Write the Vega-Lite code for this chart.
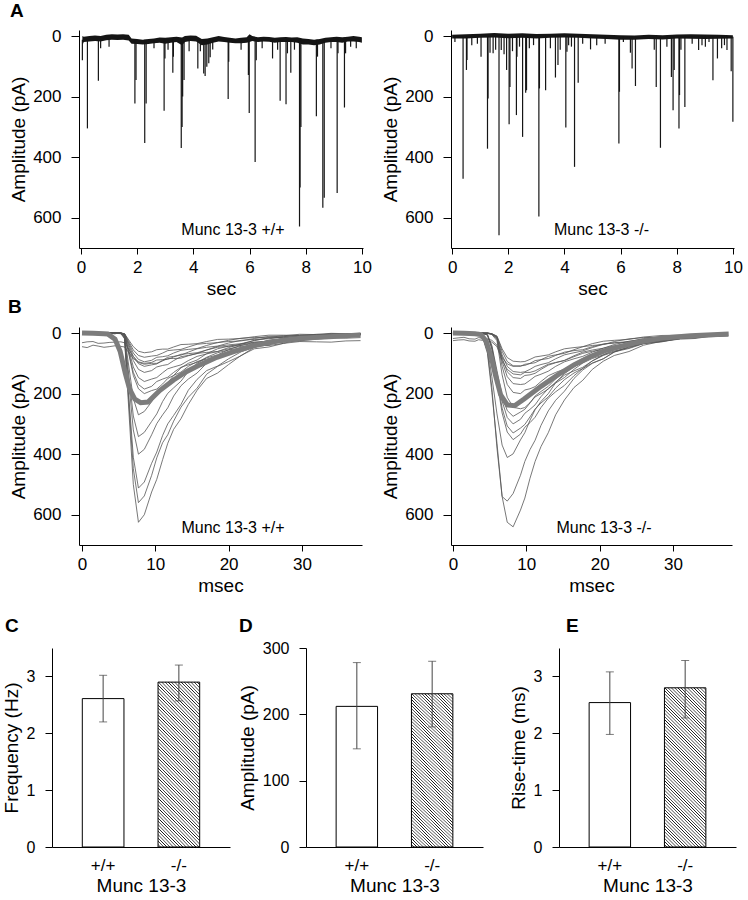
{
"$schema":"https://vega.github.io/schema/vega-lite/v6.json",
"background":"white",
"padding":{"left":2,"top":2,"right":0,"bottom":0},
"spacing":22,
"config":{
 "font":"Liberation Sans",
 "view":{"stroke":null},
 "axis":{"grid":false,"domainColor":"black","tickColor":"black","labelColor":"black","titleColor":"black","labelFont":"Liberation Sans","titleFont":"Liberation Sans","labelFontSize":17,"titleFontSize":19,"titleFontWeight":"normal","domainWidth":1,"tickWidth":1,"labelOverlap":false},
 "title":{"fontSize":19,"fontWeight":"bold","font":"Liberation Sans","anchor":"start","frame":"group","color":"black"},
 "bar":{"fill":{"gradient":"linear","x1":0,"y1":1,"x2":0.307,"y2":-0.18,"stops":[
{"offset":0,"color":"#fff"},{"offset":0.008,"color":"#fff"},{"offset":0.012,"color":"#111"},
{"offset":0.016,"color":"#fff"},{"offset":0.024,"color":"#fff"},{"offset":0.028,"color":"#111"},
{"offset":0.032,"color":"#fff"},{"offset":0.04,"color":"#fff"},{"offset":0.044,"color":"#111"},
{"offset":0.048,"color":"#fff"},{"offset":0.056,"color":"#fff"},{"offset":0.06,"color":"#111"},
{"offset":0.064,"color":"#fff"},{"offset":0.072,"color":"#fff"},{"offset":0.076,"color":"#111"},
{"offset":0.08,"color":"#fff"},{"offset":0.088,"color":"#fff"},{"offset":0.092,"color":"#111"},
{"offset":0.096,"color":"#fff"},{"offset":0.104,"color":"#fff"},{"offset":0.108,"color":"#111"},
{"offset":0.112,"color":"#fff"},{"offset":0.12,"color":"#fff"},{"offset":0.124,"color":"#111"},
{"offset":0.128,"color":"#fff"},{"offset":0.136,"color":"#fff"},{"offset":0.14,"color":"#111"},
{"offset":0.144,"color":"#fff"},{"offset":0.152,"color":"#fff"},{"offset":0.156,"color":"#111"},
{"offset":0.16,"color":"#fff"},{"offset":0.168,"color":"#fff"},{"offset":0.172,"color":"#111"},
{"offset":0.176,"color":"#fff"},{"offset":0.184,"color":"#fff"},{"offset":0.188,"color":"#111"},
{"offset":0.192,"color":"#fff"},{"offset":0.2,"color":"#fff"},{"offset":0.204,"color":"#111"},
{"offset":0.208,"color":"#fff"},{"offset":0.216,"color":"#fff"},{"offset":0.22,"color":"#111"},
{"offset":0.224,"color":"#fff"},{"offset":0.232,"color":"#fff"},{"offset":0.236,"color":"#111"},
{"offset":0.24,"color":"#fff"},{"offset":0.248,"color":"#fff"},{"offset":0.252,"color":"#111"},
{"offset":0.256,"color":"#fff"},{"offset":0.264,"color":"#fff"},{"offset":0.268,"color":"#111"},
{"offset":0.272,"color":"#fff"},{"offset":0.28,"color":"#fff"},{"offset":0.284,"color":"#111"},
{"offset":0.288,"color":"#fff"},{"offset":0.296,"color":"#fff"},{"offset":0.3,"color":"#111"},
{"offset":0.304,"color":"#fff"},{"offset":0.312,"color":"#fff"},{"offset":0.316,"color":"#111"},
{"offset":0.32,"color":"#fff"},{"offset":0.328,"color":"#fff"},{"offset":0.332,"color":"#111"},
{"offset":0.336,"color":"#fff"},{"offset":0.344,"color":"#fff"},{"offset":0.348,"color":"#111"},
{"offset":0.352,"color":"#fff"},{"offset":0.36,"color":"#fff"},{"offset":0.364,"color":"#111"},
{"offset":0.368,"color":"#fff"},{"offset":0.376,"color":"#fff"},{"offset":0.38,"color":"#111"},
{"offset":0.384,"color":"#fff"},{"offset":0.392,"color":"#fff"},{"offset":0.396,"color":"#111"},
{"offset":0.4,"color":"#fff"},{"offset":0.408,"color":"#fff"},{"offset":0.412,"color":"#111"},
{"offset":0.416,"color":"#fff"},{"offset":0.424,"color":"#fff"},{"offset":0.428,"color":"#111"},
{"offset":0.432,"color":"#fff"},{"offset":0.44,"color":"#fff"},{"offset":0.444,"color":"#111"},
{"offset":0.448,"color":"#fff"},{"offset":0.456,"color":"#fff"},{"offset":0.46,"color":"#111"},
{"offset":0.464,"color":"#fff"},{"offset":0.472,"color":"#fff"},{"offset":0.476,"color":"#111"},
{"offset":0.48,"color":"#fff"},{"offset":0.488,"color":"#fff"},{"offset":0.492,"color":"#111"},
{"offset":0.496,"color":"#fff"},{"offset":0.504,"color":"#fff"},{"offset":0.508,"color":"#111"},
{"offset":0.512,"color":"#fff"},{"offset":0.52,"color":"#fff"},{"offset":0.524,"color":"#111"},
{"offset":0.528,"color":"#fff"},{"offset":0.536,"color":"#fff"},{"offset":0.54,"color":"#111"},
{"offset":0.544,"color":"#fff"},{"offset":0.552,"color":"#fff"},{"offset":0.556,"color":"#111"},
{"offset":0.56,"color":"#fff"},{"offset":0.568,"color":"#fff"},{"offset":0.572,"color":"#111"},
{"offset":0.576,"color":"#fff"},{"offset":0.584,"color":"#fff"},{"offset":0.588,"color":"#111"},
{"offset":0.592,"color":"#fff"},{"offset":0.6,"color":"#fff"},{"offset":0.604,"color":"#111"},
{"offset":0.608,"color":"#fff"},{"offset":0.616,"color":"#fff"},{"offset":0.62,"color":"#111"},
{"offset":0.624,"color":"#fff"},{"offset":0.632,"color":"#fff"},{"offset":0.636,"color":"#111"},
{"offset":0.64,"color":"#fff"},{"offset":0.648,"color":"#fff"},{"offset":0.652,"color":"#111"},
{"offset":0.656,"color":"#fff"},{"offset":0.664,"color":"#fff"},{"offset":0.668,"color":"#111"},
{"offset":0.672,"color":"#fff"},{"offset":0.68,"color":"#fff"},{"offset":0.684,"color":"#111"},
{"offset":0.688,"color":"#fff"},{"offset":0.696,"color":"#fff"},{"offset":0.7,"color":"#111"},
{"offset":0.704,"color":"#fff"},{"offset":0.712,"color":"#fff"},{"offset":0.716,"color":"#111"},
{"offset":0.72,"color":"#fff"},{"offset":0.728,"color":"#fff"},{"offset":0.732,"color":"#111"},
{"offset":0.736,"color":"#fff"},{"offset":0.744,"color":"#fff"},{"offset":0.748,"color":"#111"},
{"offset":0.752,"color":"#fff"},{"offset":0.76,"color":"#fff"},{"offset":0.764,"color":"#111"},
{"offset":0.768,"color":"#fff"},{"offset":0.776,"color":"#fff"},{"offset":0.78,"color":"#111"},
{"offset":0.784,"color":"#fff"},{"offset":0.792,"color":"#fff"},{"offset":0.796,"color":"#111"},
{"offset":0.8,"color":"#fff"},{"offset":0.808,"color":"#fff"},{"offset":0.812,"color":"#111"},
{"offset":0.816,"color":"#fff"},{"offset":0.824,"color":"#fff"},{"offset":0.828,"color":"#111"},
{"offset":0.832,"color":"#fff"},{"offset":0.84,"color":"#fff"},{"offset":0.844,"color":"#111"},
{"offset":0.848,"color":"#fff"},{"offset":0.856,"color":"#fff"},{"offset":0.86,"color":"#111"},
{"offset":0.864,"color":"#fff"},{"offset":0.872,"color":"#fff"},{"offset":0.876,"color":"#111"},
{"offset":0.88,"color":"#fff"},{"offset":0.888,"color":"#fff"},{"offset":0.892,"color":"#111"},
{"offset":0.896,"color":"#fff"},{"offset":0.904,"color":"#fff"},{"offset":0.908,"color":"#111"},
{"offset":0.912,"color":"#fff"},{"offset":0.92,"color":"#fff"},{"offset":0.924,"color":"#111"},
{"offset":0.928,"color":"#fff"},{"offset":0.936,"color":"#fff"},{"offset":0.94,"color":"#111"},
{"offset":0.944,"color":"#fff"},{"offset":0.952,"color":"#fff"},{"offset":0.956,"color":"#111"},
{"offset":0.96,"color":"#fff"},{"offset":0.968,"color":"#fff"},{"offset":0.972,"color":"#111"},
{"offset":0.976,"color":"#fff"},{"offset":0.984,"color":"#fff"},{"offset":0.988,"color":"#111"},
{"offset":0.992,"color":"#fff"},{"offset":1,"color":"#fff"}
 ]}}
},
"datasets":{
"aLbase":[
{"t":0.05,"lo":0,"hi":30},{"t":0.1,"lo":2,"hi":20},{"t":0.3,"lo":0,"hi":18},{"t":0.5,"lo":-2,"hi":16},{"t":0.7,"lo":0,"hi":18},{"t":0.9,"lo":-4,"hi":14},{"t":1.1,"lo":-6,"hi":12},{"t":1.3,"lo":-5,"hi":13},{"t":1.5,"lo":-6,"hi":12},{"t":1.7,"lo":-4,"hi":15},{"t":1.8,"lo":8,"hi":25},{"t":2.0,"lo":10,"hi":26},{"t":2.2,"lo":12,"hi":28},{"t":2.4,"lo":10,"hi":26},{"t":2.6,"lo":8,"hi":24},{"t":2.8,"lo":5,"hi":22},{"t":3.0,"lo":6,"hi":25},{"t":3.2,"lo":4,"hi":22},{"t":3.4,"lo":2,"hi":20},{"t":3.6,"lo":5,"hi":30},{"t":3.7,"lo":0,"hi":20},{"t":3.9,"lo":-2,"hi":16},{"t":4.1,"lo":-1,"hi":18},{"t":4.3,"lo":10,"hi":30},{"t":4.5,"lo":8,"hi":28},{"t":4.7,"lo":4,"hi":22},{"t":4.9,"lo":0,"hi":18},{"t":5.1,"lo":3,"hi":20},{"t":5.3,"lo":6,"hi":22},{"t":5.5,"lo":8,"hi":24},{"t":5.7,"lo":6,"hi":24},{"t":5.9,"lo":4,"hi":22},{"t":6.0,"lo":-6,"hi":20},{"t":6.1,"lo":0,"hi":16},{"t":6.3,"lo":4,"hi":20},{"t":6.5,"lo":2,"hi":18},{"t":6.7,"lo":3,"hi":19},{"t":6.9,"lo":6,"hi":22},{"t":7.1,"lo":4,"hi":20},{"t":7.3,"lo":3,"hi":20},{"t":7.5,"lo":5,"hi":20},{"t":7.7,"lo":4,"hi":22},{"t":7.9,"lo":8,"hi":28},{"t":8.1,"lo":10,"hi":28},{"t":8.3,"lo":12,"hi":30},{"t":8.5,"lo":10,"hi":28},{"t":8.7,"lo":6,"hi":22},{"t":8.9,"lo":4,"hi":20},{"t":9.1,"lo":2,"hi":20},{"t":9.3,"lo":4,"hi":22},{"t":9.5,"lo":2,"hi":18},{"t":9.7,"lo":0,"hi":18},{"t":9.9,"lo":2,"hi":20},{"t":10.0,"lo":4,"hi":22}
],
"aLspk":[
{"t":0.05,"a":80},{"t":0.23,"a":305},{"t":0.62,"a":148},{"t":0.7,"a":40},{"t":1.0,"a":35},{"t":1.92,"a":223},{"t":1.96,"a":145},{"t":2.27,"a":353},{"t":2.32,"a":223},{"t":2.6,"a":40},{"t":2.96,"a":247},{"t":2.99,"a":74},{"t":3.1,"a":45},{"t":3.27,"a":121},{"t":3.29,"a":68},{"t":3.57,"a":370},{"t":3.6,"a":300},{"t":3.62,"a":200},{"t":3.67,"a":145},{"t":3.85,"a":50},{"t":4.16,"a":107},{"t":4.25,"a":50},{"t":4.37,"a":124},{"t":4.42,"a":132},{"t":4.48,"a":101},{"t":4.55,"a":90},{"t":4.6,"a":70},{"t":4.69,"a":44},{"t":5.24,"a":208},{"t":5.26,"a":85},{"t":5.7,"a":45},{"t":5.96,"a":129},{"t":5.99,"a":254},{"t":6.2,"a":416},{"t":6.24,"a":80},{"t":6.45,"a":40},{"t":6.82,"a":74},{"t":7.0,"a":45},{"t":7.09,"a":214},{"t":7.3,"a":225},{"t":7.35,"a":57},{"t":7.47,"a":121},{"t":7.6,"a":45},{"t":7.78,"a":629},{"t":7.8,"a":500},{"t":7.83,"a":300},{"t":8.38,"a":265},{"t":8.42,"a":68},{"t":8.61,"a":567},{"t":8.66,"a":534},{"t":8.9,"a":40},{"t":9.12,"a":518},{"t":9.15,"a":57},{"t":9.38,"a":236},{"t":9.42,"a":57},{"t":9.6,"a":35},{"t":9.8,"a":40}
],
"aRbase":[
{"t":0,"lo":-4,"hi":8},{"t":0.5,"lo":-6,"hi":8},{"t":1,"lo":-8,"hi":6},{"t":1.5,"lo":-10,"hi":5},{"t":2,"lo":-8,"hi":7},{"t":2.5,"lo":-9,"hi":6},{"t":3,"lo":-7,"hi":8},{"t":3.5,"lo":-8,"hi":6},{"t":4,"lo":-9,"hi":5},{"t":4.5,"lo":-8,"hi":6},{"t":5,"lo":-6,"hi":8},{"t":5.5,"lo":-4,"hi":10},{"t":6,"lo":-3,"hi":12},{"t":6.5,"lo":-2,"hi":12},{"t":7,"lo":-4,"hi":10},{"t":7.5,"lo":-3,"hi":11},{"t":8,"lo":-5,"hi":8},{"t":8.5,"lo":-6,"hi":9},{"t":9,"lo":-5,"hi":10},{"t":9.5,"lo":-4,"hi":9},{"t":10,"lo":-3,"hi":8}
],
"aRspk":[
{"t":0.1,"a":20},{"t":0.39,"a":471},{"t":0.51,"a":112},{"t":0.53,"a":79},{"t":0.7,"a":30},{"t":0.9,"a":25},{"t":1.03,"a":68},{"t":1.26,"a":372},{"t":1.28,"a":206},{"t":1.35,"a":55},{"t":1.46,"a":57},{"t":1.55,"a":45},{"t":1.67,"a":658},{"t":1.75,"a":46},{"t":1.85,"a":60},{"t":1.94,"a":112},{"t":2.03,"a":291},{"t":2.06,"a":168},{"t":2.15,"a":50},{"t":2.29,"a":261},{"t":2.31,"a":68},{"t":2.4,"a":35},{"t":2.51,"a":333},{"t":2.62,"a":187},{"t":2.65,"a":179},{"t":2.75,"a":40},{"t":2.9,"a":30},{"t":3.09,"a":596},{"t":3.11,"a":173},{"t":3.33,"a":179},{"t":3.5,"a":40},{"t":3.68,"a":137},{"t":3.77,"a":96},{"t":3.85,"a":45},{"t":4.05,"a":302},{"t":4.09,"a":52},{"t":4.15,"a":30},{"t":4.25,"a":35},{"t":4.36,"a":432},{"t":4.49,"a":154},{"t":4.65,"a":25},{"t":4.93,"a":44},{"t":5.15,"a":30},{"t":5.45,"a":25},{"t":5.94,"a":355},{"t":5.96,"a":184},{"t":6.1,"a":20},{"t":6.35,"a":55},{"t":6.41,"a":107},{"t":6.53,"a":165},{"t":7.2,"a":45},{"t":7.27,"a":168},{"t":7.42,"a":369},{"t":7.65,"a":35},{"t":7.81,"a":135},{"t":7.87,"a":245},{"t":7.91,"a":112},{"t":8.08,"a":305},{"t":8.1,"a":195},{"t":8.15,"a":45},{"t":8.29,"a":234},{"t":8.55,"a":25},{"t":8.78,"a":46},{"t":8.9,"a":30},{"t":9.02,"a":35},{"t":9.15,"a":20},{"t":9.29,"a":146},{"t":9.45,"a":74},{"t":9.6,"a":40},{"t":9.7,"a":30},{"t":9.79,"a":46},{"t":9.94,"a":116},{"t":10.0,"a":283}
],
"bL":[
{"k":1,"t":0,"a":2},{"k":1,"t":1.5,"a":-2},{"k":1,"t":3,"a":1},{"k":1,"t":4.5,"a":-1},{"k":1,"t":5.3,"a":2},{"k":1,"t":5.8,"a":19},{"k":1,"t":6.3,"a":219},{"k":1,"t":7,"a":500},{"k":1,"t":7.7,"a":625},{"k":1,"t":8.5,"a":600},{"k":1,"t":9.5,"a":525},{"k":1,"t":11,"a":418},{"k":1,"t":12.5,"a":318},{"k":1,"t":14.5,"a":236},{"k":1,"t":17,"a":150},{"k":1,"t":20,"a":104},{"k":1,"t":23.5,"a":52},{"k":1,"t":27.5,"a":34},{"k":1,"t":32,"a":12},{"k":1,"t":36,"a":11},{"k":1,"t":38,"a":4},
{"k":2,"t":0,"a":-1},{"k":2,"t":1.5,"a":3},{"k":2,"t":3,"a":0},{"k":2,"t":4.5,"a":2},{"k":2,"t":5.3,"a":-2},{"k":2,"t":5.8,"a":17},{"k":2,"t":6.3,"a":196},{"k":2,"t":7,"a":448},{"k":2,"t":7.7,"a":560},{"k":2,"t":8.5,"a":538},{"k":2,"t":9.5,"a":470},{"k":2,"t":11,"a":362},{"k":2,"t":12.5,"a":291},{"k":2,"t":14.5,"a":212},{"k":2,"t":17,"a":136},{"k":2,"t":20,"a":94},{"k":2,"t":23.5,"a":47},{"k":2,"t":27.5,"a":30},{"k":2,"t":32,"a":14},{"k":2,"t":36,"a":8},{"k":2,"t":38,"a":6},
{"k":3,"t":0,"a":1},{"k":3,"t":1.5,"a":-2},{"k":3,"t":3,"a":2},{"k":3,"t":4.5,"a":0},{"k":3,"t":5.3,"a":1},{"k":3,"t":5.8,"a":15},{"k":3,"t":6.3,"a":179},{"k":3,"t":7,"a":410},{"k":3,"t":7.7,"a":512},{"k":3,"t":8.5,"a":492},{"k":3,"t":9.5,"a":430},{"k":3,"t":11,"a":338},{"k":3,"t":12.5,"a":272},{"k":3,"t":14.5,"a":189},{"k":3,"t":17,"a":124},{"k":3,"t":20,"a":85},{"k":3,"t":23.5,"a":46},{"k":3,"t":27.5,"a":26},{"k":3,"t":32,"a":13},{"k":3,"t":36,"a":8},{"k":3,"t":38,"a":3},
{"k":4,"t":0,"a":3},{"k":4,"t":1.5,"a":0},{"k":4,"t":3,"a":-1},{"k":4,"t":4.5,"a":2},{"k":4,"t":5.3,"a":0},{"k":4,"t":5.8,"a":12},{"k":4,"t":6.3,"a":140},{"k":4,"t":7,"a":320},{"k":4,"t":7.7,"a":400},{"k":4,"t":8.5,"a":384},{"k":4,"t":9.5,"a":336},{"k":4,"t":11,"a":270},{"k":4,"t":12.5,"a":208},{"k":4,"t":14.5,"a":152},{"k":4,"t":17,"a":100},{"k":4,"t":20,"a":61},{"k":4,"t":23.5,"a":36},{"k":4,"t":27.5,"a":20},{"k":4,"t":32,"a":10},{"k":4,"t":36,"a":6},{"k":4,"t":38,"a":5},
{"k":5,"t":0,"a":-2},{"k":5,"t":1.5,"a":2},{"k":5,"t":3,"a":0},{"k":5,"t":4.5,"a":-1},{"k":5,"t":5.3,"a":2},{"k":5,"t":5.8,"a":10},{"k":5,"t":6.3,"a":120},{"k":5,"t":7,"a":274},{"k":5,"t":7.7,"a":342},{"k":5,"t":8.5,"a":328},{"k":5,"t":9.5,"a":292},{"k":5,"t":11,"a":226},{"k":5,"t":12.5,"a":181},{"k":5,"t":14.5,"a":127},{"k":5,"t":17,"a":82},{"k":5,"t":20,"a":55},{"k":5,"t":23.5,"a":31},{"k":5,"t":27.5,"a":17},{"k":5,"t":32,"a":9},{"k":5,"t":36,"a":5},{"k":5,"t":38,"a":3},
{"k":6,"t":0,"a":1},{"k":6,"t":1.5,"a":-1},{"k":6,"t":3,"a":2},{"k":6,"t":4.5,"a":0},{"k":6,"t":5.3,"a":-1},{"k":6,"t":5.8,"a":8},{"k":6,"t":6.3,"a":95},{"k":6,"t":7,"a":216},{"k":6,"t":7.7,"a":270},{"k":6,"t":8.5,"a":259},{"k":6,"t":9.5,"a":227},{"k":6,"t":11,"a":178},{"k":6,"t":12.5,"a":140},{"k":6,"t":14.5,"a":100},{"k":6,"t":17,"a":68},{"k":6,"t":20,"a":43},{"k":6,"t":23.5,"a":24},{"k":6,"t":27.5,"a":14},{"k":6,"t":32,"a":7},{"k":6,"t":36,"a":4},{"k":6,"t":38,"a":2},
{"k":7,"t":0,"a":0},{"k":7,"t":1.5,"a":2},{"k":7,"t":3,"a":-1},{"k":7,"t":4.5,"a":1},{"k":7,"t":5.3,"a":0},{"k":7,"t":5.8,"a":6},{"k":7,"t":6.3,"a":60},{"k":7,"t":7,"a":140},{"k":7,"t":7.7,"a":184},{"k":7,"t":8.5,"a":200},{"k":7,"t":9.5,"a":190},{"k":7,"t":11,"a":168},{"k":7,"t":12.5,"a":140},{"k":7,"t":14.5,"a":110},{"k":7,"t":17,"a":86},{"k":7,"t":20,"a":63},{"k":7,"t":23.5,"a":38},{"k":7,"t":27.5,"a":22},{"k":7,"t":32,"a":12},{"k":7,"t":36,"a":8},{"k":7,"t":38,"a":6},
{"k":8,"t":0,"a":-2},{"k":8,"t":1.5,"a":1},{"k":8,"t":3,"a":2},{"k":8,"t":4.5,"a":0},{"k":8,"t":5.3,"a":1},{"k":8,"t":5.8,"a":6},{"k":8,"t":6.3,"a":56},{"k":8,"t":7,"a":130},{"k":8,"t":7.7,"a":170},{"k":8,"t":8.5,"a":185},{"k":8,"t":9.5,"a":176},{"k":8,"t":11,"a":152},{"k":8,"t":12.5,"a":130},{"k":8,"t":14.5,"a":105},{"k":8,"t":17,"a":80},{"k":8,"t":20,"a":56},{"k":8,"t":23.5,"a":35},{"k":8,"t":27.5,"a":20},{"k":8,"t":32,"a":11},{"k":8,"t":36,"a":7},{"k":8,"t":38,"a":6},
{"k":9,"t":0,"a":1},{"k":9,"t":1.5,"a":-1},{"k":9,"t":3,"a":0},{"k":9,"t":4.5,"a":2},{"k":9,"t":5.3,"a":-1},{"k":9,"t":5.8,"a":5},{"k":9,"t":6.3,"a":48},{"k":9,"t":7,"a":112},{"k":9,"t":7.7,"a":147},{"k":9,"t":8.5,"a":160},{"k":9,"t":9.5,"a":152},{"k":9,"t":11,"a":131},{"k":9,"t":12.5,"a":112},{"k":9,"t":14.5,"a":91},{"k":9,"t":17,"a":69},{"k":9,"t":20,"a":48},{"k":9,"t":23.5,"a":30},{"k":9,"t":27.5,"a":18},{"k":9,"t":32,"a":10},{"k":9,"t":36,"a":6},{"k":9,"t":38,"a":5},
{"k":10,"t":0,"a":2},{"k":10,"t":1.5,"a":0},{"k":10,"t":3,"a":1},{"k":10,"t":4.5,"a":-2},{"k":10,"t":5.3,"a":0},{"k":10,"t":5.8,"a":4},{"k":10,"t":6.3,"a":39},{"k":10,"t":7,"a":91},{"k":10,"t":7.7,"a":120},{"k":10,"t":8.5,"a":130},{"k":10,"t":9.5,"a":124},{"k":10,"t":11,"a":107},{"k":10,"t":12.5,"a":91},{"k":10,"t":14.5,"a":74},{"k":10,"t":17,"a":56},{"k":10,"t":20,"a":39},{"k":10,"t":23.5,"a":25},{"k":10,"t":27.5,"a":14},{"k":10,"t":32,"a":8},{"k":10,"t":36,"a":5},{"k":10,"t":38,"a":4},
{"k":11,"t":0,"a":-1},{"k":11,"t":1.5,"a":2},{"k":11,"t":3,"a":0},{"k":11,"t":4.5,"a":1},{"k":11,"t":5.3,"a":2},{"k":11,"t":5.8,"a":3},{"k":11,"t":6.3,"a":33},{"k":11,"t":7,"a":77},{"k":11,"t":7.7,"a":101},{"k":11,"t":8.5,"a":110},{"k":11,"t":9.5,"a":105},{"k":11,"t":11,"a":90},{"k":11,"t":12.5,"a":77},{"k":11,"t":14.5,"a":63},{"k":11,"t":17,"a":47},{"k":11,"t":20,"a":33},{"k":11,"t":23.5,"a":21},{"k":11,"t":27.5,"a":12},{"k":11,"t":32,"a":7},{"k":11,"t":36,"a":4},{"k":11,"t":38,"a":2},
{"k":12,"t":0,"a":1},{"k":12,"t":1.5,"a":0},{"k":12,"t":3,"a":-2},{"k":12,"t":4.5,"a":0},{"k":12,"t":5.3,"a":1},{"k":12,"t":5.8,"a":3},{"k":12,"t":6.3,"a":28},{"k":12,"t":7,"a":66},{"k":12,"t":7.7,"a":87},{"k":12,"t":8.5,"a":95},{"k":12,"t":9.5,"a":90},{"k":12,"t":11,"a":78},{"k":12,"t":12.5,"a":66},{"k":12,"t":14.5,"a":54},{"k":12,"t":17,"a":41},{"k":12,"t":20,"a":28},{"k":12,"t":23.5,"a":18},{"k":12,"t":27.5,"a":10},{"k":12,"t":32,"a":6},{"k":12,"t":36,"a":4},{"k":12,"t":38,"a":3},
{"k":13,"t":0,"a":0},{"k":13,"t":1.5,"a":-2},{"k":13,"t":3,"a":1},{"k":13,"t":4.5,"a":1},{"k":13,"t":5.3,"a":0},{"k":13,"t":5.8,"a":2},{"k":13,"t":6.3,"a":24},{"k":13,"t":7,"a":56},{"k":13,"t":7.7,"a":74},{"k":13,"t":8.5,"a":80},{"k":13,"t":9.5,"a":76},{"k":13,"t":11,"a":66},{"k":13,"t":12.5,"a":56},{"k":13,"t":14.5,"a":46},{"k":13,"t":17,"a":34},{"k":13,"t":20,"a":24},{"k":13,"t":23.5,"a":15},{"k":13,"t":27.5,"a":9},{"k":13,"t":32,"a":5},{"k":13,"t":36,"a":3},{"k":13,"t":38,"a":1},
{"k":14,"t":0,"a":2},{"k":14,"t":1.5,"a":1},{"k":14,"t":3,"a":0},{"k":14,"t":4.5,"a":-1},{"k":14,"t":5.3,"a":0},{"k":14,"t":5.8,"a":2},{"k":14,"t":6.3,"a":20},{"k":14,"t":7,"a":45},{"k":14,"t":7.7,"a":60},{"k":14,"t":8.5,"a":65},{"k":14,"t":9.5,"a":62},{"k":14,"t":11,"a":53},{"k":14,"t":12.5,"a":46},{"k":14,"t":14.5,"a":37},{"k":14,"t":17,"a":28},{"k":14,"t":20,"a":20},{"k":14,"t":23.5,"a":12},{"k":14,"t":27.5,"a":7},{"k":14,"t":32,"a":4},{"k":14,"t":36,"a":2},{"k":14,"t":38,"a":1},
{"k":15,"t":0,"a":45},{"k":15,"t":1.5,"a":40},{"k":15,"t":3,"a":47},{"k":15,"t":4.5,"a":42},{"k":15,"t":5.3,"a":44},{"k":15,"t":5.8,"a":46},{"k":15,"t":6.3,"a":62},{"k":15,"t":7,"a":84},{"k":15,"t":7.7,"a":97},{"k":15,"t":8.5,"a":103},{"k":15,"t":9.5,"a":100},{"k":15,"t":11,"a":92},{"k":15,"t":12.5,"a":84},{"k":15,"t":14.5,"a":75},{"k":15,"t":17,"a":64},{"k":15,"t":20,"a":52},{"k":15,"t":23.5,"a":42},{"k":15,"t":27.5,"a":34},{"k":15,"t":32,"a":29},{"k":15,"t":36,"a":26},{"k":15,"t":38,"a":25},
{"k":16,"t":0,"a":32},{"k":16,"t":1.5,"a":28},{"k":16,"t":3,"a":33},{"k":16,"t":4.5,"a":30},{"k":16,"t":5.3,"a":29},{"k":16,"t":5.8,"a":32},{"k":16,"t":6.3,"a":50},{"k":16,"t":7,"a":78},{"k":16,"t":7.7,"a":95},{"k":16,"t":8.5,"a":100},{"k":16,"t":9.5,"a":97},{"k":16,"t":11,"a":88},{"k":16,"t":12.5,"a":79},{"k":16,"t":14.5,"a":68},{"k":16,"t":17,"a":56},{"k":16,"t":20,"a":44},{"k":16,"t":23.5,"a":34},{"k":16,"t":27.5,"a":26},{"k":16,"t":32,"a":20},{"k":16,"t":36,"a":17},{"k":16,"t":38,"a":15},
{"k":1,"t":0.7,"a":3},{"k":1,"t":2.2,"a":-1},{"k":1,"t":3.7,"a":2},{"k":1,"t":10.2,"a":483},{"k":1,"t":11.7,"a":364},{"k":1,"t":13.5,"a":283},{"k":1,"t":15.7,"a":189},{"k":1,"t":18.5,"a":132},{"k":1,"t":21.7,"a":74},{"k":1,"t":25.5,"a":46},{"k":1,"t":29.7,"a":20},{"k":1,"t":34,"a":14},
{"k":2,"t":0.7,"a":-2},{"k":2,"t":2.2,"a":1},{"k":2,"t":3.7,"a":-1},{"k":2,"t":10.2,"a":412},{"k":2,"t":11.7,"a":336},{"k":2,"t":13.5,"a":245},{"k":2,"t":15.7,"a":182},{"k":2,"t":18.5,"a":110},{"k":2,"t":21.7,"a":75},{"k":2,"t":25.5,"a":35},{"k":2,"t":29.7,"a":25},{"k":2,"t":34,"a":8},
{"k":3,"t":0.7,"a":2},{"k":3,"t":2.2,"a":0},{"k":3,"t":3.7,"a":-2},{"k":3,"t":10.2,"a":393},{"k":3,"t":11.7,"a":300},{"k":3,"t":13.5,"a":236},{"k":3,"t":15.7,"a":153},{"k":3,"t":18.5,"a":109},{"k":3,"t":21.7,"a":62},{"k":3,"t":25.5,"a":39},{"k":3,"t":29.7,"a":17},{"k":3,"t":34,"a":12},
{"k":4,"t":0.7,"a":-1},{"k":4,"t":2.2,"a":2},{"k":4,"t":3.7,"a":1},{"k":4,"t":10.2,"a":299},{"k":4,"t":11.7,"a":247},{"k":4,"t":13.5,"a":174},{"k":4,"t":15.7,"a":132},{"k":4,"t":18.5,"a":76},{"k":4,"t":21.7,"a":53},{"k":4,"t":25.5,"a":25},{"k":4,"t":29.7,"a":18},{"k":4,"t":34,"a":5},
{"k":5,"t":0.7,"a":1},{"k":5,"t":2.2,"a":-2},{"k":5,"t":3.7,"a":2},{"k":5,"t":10.2,"a":267},{"k":5,"t":11.7,"a":199},{"k":5,"t":13.5,"a":159},{"k":5,"t":15.7,"a":100},{"k":5,"t":18.5,"a":72},{"k":5,"t":21.7,"a":40},{"k":5,"t":25.5,"a":27},{"k":5,"t":29.7,"a":10},{"k":5,"t":34,"a":9},
{"k":6,"t":0.7,"a":-2},{"k":6,"t":2.2,"a":1},{"k":6,"t":3.7,"a":0},{"k":6,"t":10.2,"a":199},{"k":6,"t":11.7,"a":165},{"k":6,"t":13.5,"a":115},{"k":6,"t":15.7,"a":89},{"k":6,"t":18.5,"a":52},{"k":6,"t":21.7,"a":37},{"k":6,"t":25.5,"a":16},{"k":6,"t":29.7,"a":13},{"k":6,"t":34,"a":3},
{"k":7,"t":0.7,"a":2},{"k":7,"t":2.2,"a":-1},{"k":7,"t":3.7,"a":1},{"k":7,"t":10.2,"a":185},{"k":7,"t":11.7,"a":150},{"k":7,"t":13.5,"a":129},{"k":7,"t":15.7,"a":94},{"k":7,"t":18.5,"a":78},{"k":7,"t":21.7,"a":48},{"k":7,"t":25.5,"a":33},{"k":7,"t":29.7,"a":14},{"k":7,"t":34,"a":12},
{"k":8,"t":0.7,"a":0},{"k":8,"t":2.2,"a":2},{"k":8,"t":3.7,"a":-2},{"k":8,"t":10.2,"a":160},{"k":8,"t":11.7,"a":146},{"k":8,"t":13.5,"a":113},{"k":8,"t":15.7,"a":97},{"k":8,"t":18.5,"a":65},{"k":8,"t":21.7,"a":49},{"k":8,"t":25.5,"a":24},{"k":8,"t":29.7,"a":18},{"k":8,"t":34,"a":7},
{"k":9,"t":0.7,"a":-2},{"k":9,"t":2.2,"a":0},{"k":9,"t":3.7,"a":2},{"k":9,"t":10.2,"a":147},{"k":9,"t":11.7,"a":118},{"k":9,"t":13.5,"a":105},{"k":9,"t":15.7,"a":77},{"k":9,"t":18.5,"a":61},{"k":9,"t":21.7,"a":36},{"k":9,"t":25.5,"a":27},{"k":9,"t":29.7,"a":11},{"k":9,"t":34,"a":10},
{"k":10,"t":0.7,"a":1},{"k":10,"t":2.2,"a":-2},{"k":10,"t":3.7,"a":0},{"k":10,"t":10.2,"a":112},{"k":10,"t":11.7,"a":104},{"k":10,"t":13.5,"a":78},{"k":10,"t":15.7,"a":68},{"k":10,"t":18.5,"a":44},{"k":10,"t":21.7,"a":35},{"k":10,"t":25.5,"a":16},{"k":10,"t":29.7,"a":14},{"k":10,"t":34,"a":4},
{"k":11,"t":0.7,"a":2},{"k":11,"t":2.2,"a":1},{"k":11,"t":3.7,"a":-1},{"k":11,"t":10.2,"a":102},{"k":11,"t":11.7,"a":80},{"k":11,"t":13.5,"a":73},{"k":11,"t":15.7,"a":52},{"k":11,"t":18.5,"a":43},{"k":11,"t":21.7,"a":24},{"k":11,"t":25.5,"a":19},{"k":11,"t":29.7,"a":7},{"k":11,"t":34,"a":7},
{"k":12,"t":0.7,"a":-1},{"k":12,"t":2.2,"a":2},{"k":12,"t":3.7,"a":1},{"k":12,"t":10.2,"a":80},{"k":12,"t":11.7,"a":75},{"k":12,"t":13.5,"a":57},{"k":12,"t":15.7,"a":51},{"k":12,"t":18.5,"a":31},{"k":12,"t":21.7,"a":26},{"k":12,"t":25.5,"a":11},{"k":12,"t":29.7,"a":10},{"k":12,"t":34,"a":3},
{"k":13,"t":0.7,"a":1},{"k":13,"t":2.2,"a":-1},{"k":13,"t":3.7,"a":2},{"k":13,"t":10.2,"a":74},{"k":13,"t":11.7,"a":58},{"k":13,"t":13.5,"a":54},{"k":13,"t":15.7,"a":37},{"k":13,"t":18.5,"a":32},{"k":13,"t":21.7,"a":17},{"k":13,"t":25.5,"a":14},{"k":13,"t":29.7,"a":4},{"k":13,"t":34,"a":6},
{"k":14,"t":0.7,"a":-2},{"k":14,"t":2.2,"a":1},{"k":14,"t":3.7,"a":0},{"k":14,"t":10.2,"a":55},{"k":14,"t":11.7,"a":53},{"k":14,"t":13.5,"a":38},{"k":14,"t":15.7,"a":35},{"k":14,"t":18.5,"a":21},{"k":14,"t":21.7,"a":18},{"k":14,"t":25.5,"a":7},{"k":14,"t":29.7,"a":8},{"k":14,"t":34,"a":1},
{"k":15,"t":0.7,"a":48},{"k":15,"t":2.2,"a":43},{"k":15,"t":3.7,"a":45},{"k":15,"t":10.2,"a":100},{"k":15,"t":11.7,"a":84},{"k":15,"t":13.5,"a":83},{"k":15,"t":15.7,"a":67},{"k":15,"t":18.5,"a":61},{"k":15,"t":21.7,"a":44},{"k":15,"t":25.5,"a":41},{"k":15,"t":29.7,"a":28},{"k":15,"t":34,"a":30},
{"k":16,"t":0.7,"a":29},{"k":16,"t":2.2,"a":34},{"k":16,"t":3.7,"a":31},{"k":16,"t":10.2,"a":89},{"k":16,"t":11.7,"a":87},{"k":16,"t":13.5,"a":70},{"k":16,"t":15.7,"a":65},{"k":16,"t":18.5,"a":47},{"k":16,"t":21.7,"a":41},{"k":16,"t":25.5,"a":27},{"k":16,"t":29.7,"a":26},{"k":16,"t":34,"a":16}
],
"bR":[
{"k":1,"t":0,"a":1},{"k":1,"t":1.5,"a":-2},{"k":1,"t":3,"a":2},{"k":1,"t":4,"a":10},{"k":1,"t":4.7,"a":60},{"k":1,"t":5.3,"a":180},{"k":1,"t":6,"a":380},{"k":1,"t":6.7,"a":540},{"k":1,"t":7.4,"a":625},{"k":1,"t":8.2,"a":640},{"k":1,"t":9.2,"a":585},{"k":1,"t":10.5,"a":480},{"k":1,"t":12,"a":375},{"k":1,"t":14,"a":270},{"k":1,"t":16.5,"a":180},{"k":1,"t":19,"a":120},{"k":1,"t":22,"a":74},{"k":1,"t":26,"a":40},{"k":1,"t":31,"a":20},{"k":1,"t":35,"a":11},{"k":1,"t":37.5,"a":7},
{"k":2,"t":0,"a":-1},{"k":2,"t":1.5,"a":2},{"k":2,"t":3,"a":0},{"k":2,"t":4,"a":11},{"k":2,"t":4.7,"a":67},{"k":2,"t":5.3,"a":196},{"k":2,"t":6,"a":364},{"k":2,"t":6.7,"a":540},{"k":2,"t":7.4,"a":555},{"k":2,"t":8.2,"a":530},{"k":2,"t":9.2,"a":470},{"k":2,"t":10.5,"a":385},{"k":2,"t":12,"a":305},{"k":2,"t":14,"a":222},{"k":2,"t":16.5,"a":150},{"k":2,"t":19,"a":100},{"k":2,"t":22,"a":62},{"k":2,"t":26,"a":34},{"k":2,"t":31,"a":17},{"k":2,"t":35,"a":9},{"k":2,"t":37.5,"a":5},
{"k":3,"t":0,"a":2},{"k":3,"t":1.5,"a":0},{"k":3,"t":3,"a":-1},{"k":3,"t":4,"a":8},{"k":3,"t":4.7,"a":49},{"k":3,"t":5.3,"a":144},{"k":3,"t":6,"a":267},{"k":3,"t":6.7,"a":370},{"k":3,"t":7.4,"a":411},{"k":3,"t":8.2,"a":399},{"k":3,"t":9.2,"a":353},{"k":3,"t":10.5,"a":288},{"k":3,"t":12,"a":226},{"k":3,"t":14,"a":164},{"k":3,"t":16.5,"a":111},{"k":3,"t":19,"a":74},{"k":3,"t":22,"a":45},{"k":3,"t":26,"a":25},{"k":3,"t":31,"a":12},{"k":3,"t":35,"a":6},{"k":3,"t":37.5,"a":4},
{"k":4,"t":0,"a":0},{"k":4,"t":1.5,"a":1},{"k":4,"t":3,"a":2},{"k":4,"t":4,"a":-1},{"k":4,"t":4.7,"a":7},{"k":4,"t":5.3,"a":53},{"k":4,"t":6,"a":158},{"k":4,"t":6.7,"a":264},{"k":4,"t":7.4,"a":327},{"k":4,"t":8.2,"a":352},{"k":4,"t":9.2,"a":334},{"k":4,"t":10.5,"a":296},{"k":4,"t":12,"a":246},{"k":4,"t":14,"a":194},{"k":4,"t":16.5,"a":141},{"k":4,"t":19,"a":99},{"k":4,"t":22,"a":63},{"k":4,"t":26,"a":35},{"k":4,"t":31,"a":18},{"k":4,"t":35,"a":9},{"k":4,"t":37.5,"a":5},
{"k":5,"t":0,"a":-2},{"k":5,"t":1.5,"a":0},{"k":5,"t":3,"a":1},{"k":5,"t":4,"a":2},{"k":5,"t":4.7,"a":6},{"k":5,"t":5.3,"a":50},{"k":5,"t":6,"a":149},{"k":5,"t":6.7,"a":248},{"k":5,"t":7.4,"a":307},{"k":5,"t":8.2,"a":330},{"k":5,"t":9.2,"a":314},{"k":5,"t":10.5,"a":277},{"k":5,"t":12,"a":231},{"k":5,"t":14,"a":182},{"k":5,"t":16.5,"a":132},{"k":5,"t":19,"a":92},{"k":5,"t":22,"a":59},{"k":5,"t":26,"a":33},{"k":5,"t":31,"a":16},{"k":5,"t":35,"a":8},{"k":5,"t":37.5,"a":5},
{"k":6,"t":0,"a":1},{"k":6,"t":1.5,"a":-1},{"k":6,"t":3,"a":0},{"k":6,"t":4,"a":1},{"k":6,"t":4.7,"a":6},{"k":6,"t":5.3,"a":45},{"k":6,"t":6,"a":135},{"k":6,"t":6.7,"a":225},{"k":6,"t":7.4,"a":279},{"k":6,"t":8.2,"a":300},{"k":6,"t":9.2,"a":285},{"k":6,"t":10.5,"a":252},{"k":6,"t":12,"a":210},{"k":6,"t":14,"a":165},{"k":6,"t":16.5,"a":120},{"k":6,"t":19,"a":84},{"k":6,"t":22,"a":54},{"k":6,"t":26,"a":30},{"k":6,"t":31,"a":15},{"k":6,"t":35,"a":8},{"k":6,"t":37.5,"a":4},
{"k":7,"t":0,"a":0},{"k":7,"t":1.5,"a":2},{"k":7,"t":3,"a":-1},{"k":7,"t":4,"a":0},{"k":7,"t":4.7,"a":5},{"k":7,"t":5.3,"a":41},{"k":7,"t":6,"a":124},{"k":7,"t":6.7,"a":206},{"k":7,"t":7.4,"a":256},{"k":7,"t":8.2,"a":275},{"k":7,"t":9.2,"a":261},{"k":7,"t":10.5,"a":231},{"k":7,"t":12,"a":193},{"k":7,"t":14,"a":151},{"k":7,"t":16.5,"a":110},{"k":7,"t":19,"a":77},{"k":7,"t":22,"a":50},{"k":7,"t":26,"a":28},{"k":7,"t":31,"a":14},{"k":7,"t":35,"a":7},{"k":7,"t":37.5,"a":4},
{"k":8,"t":0,"a":2},{"k":8,"t":1.5,"a":0},{"k":8,"t":3,"a":1},{"k":8,"t":4,"a":-1},{"k":8,"t":4.7,"a":0},{"k":8,"t":5.3,"a":5},{"k":8,"t":6,"a":25},{"k":8,"t":6.7,"a":138},{"k":8,"t":7.4,"a":212},{"k":8,"t":8.2,"a":245},{"k":8,"t":9.2,"a":250},{"k":8,"t":10.5,"a":230},{"k":8,"t":12,"a":200},{"k":8,"t":14,"a":162},{"k":8,"t":16.5,"a":125},{"k":8,"t":19,"a":92},{"k":8,"t":22,"a":62},{"k":8,"t":26,"a":35},{"k":8,"t":31,"a":18},{"k":8,"t":35,"a":10},{"k":8,"t":37.5,"a":7},
{"k":9,"t":0,"a":-1},{"k":9,"t":1.5,"a":1},{"k":9,"t":3,"a":0},{"k":9,"t":4,"a":2},{"k":9,"t":4.7,"a":1},{"k":9,"t":5.3,"a":4},{"k":9,"t":6,"a":20},{"k":9,"t":6.7,"a":110},{"k":9,"t":7.4,"a":170},{"k":9,"t":8.2,"a":196},{"k":9,"t":9.2,"a":200},{"k":9,"t":10.5,"a":184},{"k":9,"t":12,"a":160},{"k":9,"t":14,"a":130},{"k":9,"t":16.5,"a":100},{"k":9,"t":19,"a":74},{"k":9,"t":22,"a":50},{"k":9,"t":26,"a":28},{"k":9,"t":31,"a":14},{"k":9,"t":35,"a":8},{"k":9,"t":37.5,"a":6},
{"k":10,"t":0,"a":1},{"k":10,"t":1.5,"a":-2},{"k":10,"t":3,"a":0},{"k":10,"t":4,"a":1},{"k":10,"t":4.7,"a":0},{"k":10,"t":5.3,"a":3},{"k":10,"t":6,"a":17},{"k":10,"t":6.7,"a":94},{"k":10,"t":7.4,"a":144},{"k":10,"t":8.2,"a":167},{"k":10,"t":9.2,"a":170},{"k":10,"t":10.5,"a":156},{"k":10,"t":12,"a":136},{"k":10,"t":14,"a":110},{"k":10,"t":16.5,"a":85},{"k":10,"t":19,"a":63},{"k":10,"t":22,"a":42},{"k":10,"t":26,"a":24},{"k":10,"t":31,"a":12},{"k":10,"t":35,"a":7},{"k":10,"t":37.5,"a":5},
{"k":11,"t":0,"a":0},{"k":11,"t":1.5,"a":1},{"k":11,"t":3,"a":-1},{"k":11,"t":4,"a":0},{"k":11,"t":4.7,"a":2},{"k":11,"t":5.3,"a":3},{"k":11,"t":6,"a":15},{"k":11,"t":6.7,"a":82},{"k":11,"t":7.4,"a":128},{"k":11,"t":8.2,"a":147},{"k":11,"t":9.2,"a":150},{"k":11,"t":10.5,"a":138},{"k":11,"t":12,"a":120},{"k":11,"t":14,"a":98},{"k":11,"t":16.5,"a":75},{"k":11,"t":19,"a":56},{"k":11,"t":22,"a":38},{"k":11,"t":26,"a":21},{"k":11,"t":31,"a":10},{"k":11,"t":35,"a":6},{"k":11,"t":37.5,"a":4},
{"k":12,"t":0,"a":2},{"k":12,"t":1.5,"a":0},{"k":12,"t":3,"a":1},{"k":12,"t":4,"a":0},{"k":12,"t":4.7,"a":-1},{"k":12,"t":5.3,"a":3},{"k":12,"t":6,"a":13},{"k":12,"t":6.7,"a":72},{"k":12,"t":7.4,"a":110},{"k":12,"t":8.2,"a":127},{"k":12,"t":9.2,"a":130},{"k":12,"t":10.5,"a":120},{"k":12,"t":12,"a":104},{"k":12,"t":14,"a":85},{"k":12,"t":16.5,"a":65},{"k":12,"t":19,"a":48},{"k":12,"t":22,"a":32},{"k":12,"t":26,"a":18},{"k":12,"t":31,"a":9},{"k":12,"t":35,"a":5},{"k":12,"t":37.5,"a":4},
{"k":13,"t":0,"a":-1},{"k":13,"t":1.5,"a":2},{"k":13,"t":3,"a":0},{"k":13,"t":4,"a":1},{"k":13,"t":4.7,"a":0},{"k":13,"t":5.3,"a":2},{"k":13,"t":6,"a":11},{"k":13,"t":6.7,"a":60},{"k":13,"t":7.4,"a":94},{"k":13,"t":8.2,"a":108},{"k":13,"t":9.2,"a":110},{"k":13,"t":10.5,"a":101},{"k":13,"t":12,"a":88},{"k":13,"t":14,"a":72},{"k":13,"t":16.5,"a":55},{"k":13,"t":19,"a":41},{"k":13,"t":22,"a":28},{"k":13,"t":26,"a":15},{"k":13,"t":31,"a":8},{"k":13,"t":35,"a":4},{"k":13,"t":37.5,"a":3},
{"k":14,"t":0,"a":1},{"k":14,"t":1.5,"a":0},{"k":14,"t":3,"a":2},{"k":14,"t":4,"a":-1},{"k":14,"t":4.7,"a":1},{"k":14,"t":5.3,"a":2},{"k":14,"t":6,"a":10},{"k":14,"t":6.7,"a":52},{"k":14,"t":7.4,"a":81},{"k":14,"t":8.2,"a":93},{"k":14,"t":9.2,"a":95},{"k":14,"t":10.5,"a":87},{"k":14,"t":12,"a":76},{"k":14,"t":14,"a":62},{"k":14,"t":16.5,"a":48},{"k":14,"t":19,"a":35},{"k":14,"t":22,"a":24},{"k":14,"t":26,"a":13},{"k":14,"t":31,"a":7},{"k":14,"t":35,"a":4},{"k":14,"t":37.5,"a":2},
{"k":15,"t":0,"a":25},{"k":15,"t":1.5,"a":22},{"k":15,"t":3,"a":27},{"k":15,"t":4,"a":24},{"k":15,"t":4.7,"a":26},{"k":15,"t":5.3,"a":30},{"k":15,"t":6,"a":45},{"k":15,"t":6.7,"a":90},{"k":15,"t":7.4,"a":120},{"k":15,"t":8.2,"a":135},{"k":15,"t":9.2,"a":138},{"k":15,"t":10.5,"a":130},{"k":15,"t":12,"a":115},{"k":15,"t":14,"a":97},{"k":15,"t":16.5,"a":78},{"k":15,"t":19,"a":60},{"k":15,"t":22,"a":44},{"k":15,"t":26,"a":30},{"k":15,"t":31,"a":18},{"k":15,"t":35,"a":12},{"k":15,"t":37.5,"a":10},
{"k":16,"t":0,"a":18},{"k":16,"t":1.5,"a":14},{"k":16,"t":3,"a":20},{"k":16,"t":4,"a":17},{"k":16,"t":4.7,"a":19},{"k":16,"t":5.3,"a":24},{"k":16,"t":6,"a":40},{"k":16,"t":6.7,"a":80},{"k":16,"t":7.4,"a":102},{"k":16,"t":8.2,"a":110},{"k":16,"t":9.2,"a":108},{"k":16,"t":10.5,"a":100},{"k":16,"t":12,"a":88},{"k":16,"t":14,"a":74},{"k":16,"t":16.5,"a":58},{"k":16,"t":19,"a":45},{"k":16,"t":22,"a":33},{"k":16,"t":26,"a":22},{"k":16,"t":31,"a":14},{"k":16,"t":35,"a":10},{"k":16,"t":37.5,"a":8},
{"k":1,"t":0.7,"a":-1},{"k":1,"t":2.2,"a":3},{"k":1,"t":3.5,"a":1},{"k":1,"t":9.8,"a":545},{"k":1,"t":11.2,"a":424},{"k":1,"t":13,"a":329},{"k":1,"t":15.2,"a":221},{"k":1,"t":17.7,"a":156},{"k":1,"t":20.5,"a":93},{"k":1,"t":24,"a":61},{"k":1,"t":28.5,"a":27},{"k":1,"t":33,"a":18},
{"k":2,"t":0.7,"a":2},{"k":2,"t":2.2,"a":-2},{"k":2,"t":3.5,"a":1},{"k":2,"t":9.8,"a":424},{"k":2,"t":11.2,"a":354},{"k":2,"t":13,"a":257},{"k":2,"t":15.2,"a":192},{"k":2,"t":17.7,"a":122},{"k":2,"t":20.5,"a":85},{"k":2,"t":24,"a":45},{"k":2,"t":28.5,"a":28},{"k":2,"t":33,"a":10},
{"k":3,"t":0.7,"a":-2},{"k":3,"t":2.2,"a":1},{"k":3,"t":3.5,"a":2},{"k":3,"t":9.8,"a":329},{"k":3,"t":11.2,"a":253},{"k":3,"t":13,"a":200},{"k":3,"t":15.2,"a":134},{"k":3,"t":17.7,"a":97},{"k":3,"t":20.5,"a":56},{"k":3,"t":24,"a":38},{"k":3,"t":28.5,"a":15},{"k":3,"t":33,"a":11},
{"k":4,"t":0.7,"a":1},{"k":4,"t":2.2,"a":-1},{"k":4,"t":3.5,"a":0},{"k":4,"t":9.8,"a":311},{"k":4,"t":11.2,"a":278},{"k":4,"t":13,"a":215},{"k":4,"t":15.2,"a":173},{"k":4,"t":17.7,"a":117},{"k":4,"t":20.5,"a":85},{"k":4,"t":24,"a":46},{"k":4,"t":28.5,"a":29},{"k":4,"t":33,"a":11},
{"k":5,"t":0.7,"a":2},{"k":5,"t":2.2,"a":1},{"k":5,"t":3.5,"a":-2},{"k":5,"t":9.8,"a":302},{"k":5,"t":11.2,"a":251},{"k":5,"t":13,"a":211},{"k":5,"t":15.2,"a":154},{"k":5,"t":17.7,"a":117},{"k":5,"t":20.5,"a":72},{"k":5,"t":24,"a":49},{"k":5,"t":28.5,"a":22},{"k":5,"t":33,"a":14},
{"k":6,"t":0.7,"a":-1},{"k":6,"t":2.2,"a":2},{"k":6,"t":3.5,"a":1},{"k":6,"t":9.8,"a":265},{"k":6,"t":11.2,"a":237},{"k":6,"t":13,"a":183},{"k":6,"t":15.2,"a":147},{"k":6,"t":17.7,"a":99},{"k":6,"t":20.5,"a":72},{"k":6,"t":24,"a":39},{"k":6,"t":28.5,"a":25},{"k":6,"t":33,"a":9},
{"k":7,"t":0.7,"a":1},{"k":7,"t":2.2,"a":-2},{"k":7,"t":3.5,"a":2},{"k":7,"t":9.8,"a":252},{"k":7,"t":11.2,"a":208},{"k":7,"t":13,"a":176},{"k":7,"t":15.2,"a":127},{"k":7,"t":17.7,"a":98},{"k":7,"t":20.5,"a":60},{"k":7,"t":24,"a":42},{"k":7,"t":28.5,"a":18},{"k":7,"t":33,"a":12},
{"k":8,"t":0.7,"a":-2},{"k":8,"t":2.2,"a":1},{"k":8,"t":3.5,"a":0},{"k":8,"t":9.8,"a":246},{"k":8,"t":11.2,"a":211},{"k":8,"t":13,"a":185},{"k":8,"t":15.2,"a":139},{"k":8,"t":17.7,"a":113},{"k":8,"t":20.5,"a":74},{"k":8,"t":24,"a":51},{"k":8,"t":28.5,"a":23},{"k":8,"t":33,"a":16},
{"k":9,"t":0.7,"a":2},{"k":9,"t":2.2,"a":-1},{"k":9,"t":3.5,"a":1},{"k":9,"t":9.8,"a":188},{"k":9,"t":11.2,"a":177},{"k":9,"t":13,"a":141},{"k":9,"t":15.2,"a":119},{"k":9,"t":17.7,"a":84},{"k":9,"t":20.5,"a":65},{"k":9,"t":24,"a":36},{"k":9,"t":28.5,"a":23},{"k":9,"t":33,"a":9},
{"k":10,"t":0.7,"a":0},{"k":10,"t":2.2,"a":2},{"k":10,"t":3.5,"a":-1},{"k":10,"t":9.8,"a":168},{"k":10,"t":11.2,"a":143},{"k":10,"t":13,"a":126},{"k":10,"t":15.2,"a":95},{"k":10,"t":17.7,"a":77},{"k":10,"t":20.5,"a":50},{"k":10,"t":24,"a":36},{"k":10,"t":28.5,"a":16},{"k":10,"t":33,"a":12},
{"k":11,"t":0.7,"a":-2},{"k":11,"t":2.2,"a":0},{"k":11,"t":3.5,"a":2},{"k":11,"t":9.8,"a":140},{"k":11,"t":11.2,"a":133},{"k":11,"t":13,"a":106},{"k":11,"t":15.2,"a":90},{"k":11,"t":17.7,"a":63},{"k":11,"t":20.5,"a":50},{"k":11,"t":24,"a":27},{"k":11,"t":28.5,"a":18},{"k":11,"t":33,"a":6},
{"k":12,"t":0.7,"a":1},{"k":12,"t":2.2,"a":-2},{"k":12,"t":3.5,"a":1},{"k":12,"t":9.8,"a":128},{"k":12,"t":11.2,"a":110},{"k":12,"t":13,"a":98},{"k":12,"t":15.2,"a":72},{"k":12,"t":17.7,"a":59},{"k":12,"t":20.5,"a":37},{"k":12,"t":24,"a":28},{"k":12,"t":28.5,"a":12},{"k":12,"t":33,"a":9},
{"k":13,"t":0.7,"a":2},{"k":13,"t":2.2,"a":1},{"k":13,"t":3.5,"a":-1},{"k":13,"t":9.8,"a":103},{"k":13,"t":11.2,"a":98},{"k":13,"t":13,"a":77},{"k":13,"t":15.2,"a":67},{"k":13,"t":17.7,"a":45},{"k":13,"t":20.5,"a":38},{"k":13,"t":24,"a":19},{"k":13,"t":28.5,"a":14},{"k":13,"t":33,"a":4},
{"k":14,"t":0.7,"a":-1},{"k":14,"t":2.2,"a":2},{"k":14,"t":3.5,"a":0},{"k":14,"t":9.8,"a":94},{"k":14,"t":11.2,"a":79},{"k":14,"t":13,"a":72},{"k":14,"t":15.2,"a":52},{"k":14,"t":17.7,"a":45},{"k":14,"t":20.5,"a":27},{"k":14,"t":24,"a":21},{"k":14,"t":28.5,"a":8},{"k":14,"t":33,"a":7},
{"k":15,"t":0.7,"a":23},{"k":15,"t":2.2,"a":26},{"k":15,"t":3.5,"a":22},{"k":15,"t":9.8,"a":130},{"k":15,"t":11.2,"a":125},{"k":15,"t":13,"a":103},{"k":15,"t":15.2,"a":91},{"k":15,"t":17.7,"a":67},{"k":15,"t":20.5,"a":55},{"k":15,"t":24,"a":34},{"k":15,"t":28.5,"a":26},{"k":15,"t":33,"a":13},
{"k":16,"t":0.7,"a":16},{"k":16,"t":2.2,"a":19},{"k":16,"t":3.5,"a":15},{"k":16,"t":9.8,"a":107},{"k":16,"t":11.2,"a":91},{"k":16,"t":13,"a":84},{"k":16,"t":15.2,"a":63},{"k":16,"t":17.7,"a":55},{"k":16,"t":20.5,"a":36},{"k":16,"t":24,"a":30},{"k":16,"t":28.5,"a":16},{"k":16,"t":33,"a":14}
],
"bLavg":[
{"t":0,"a":0},{"t":1.5,"a":1},{"t":3,"a":2},{"t":3.5,"a":3},{"t":4.5,"a":20},{"t":5.2,"a":60},{"t":5.9,"a":132},{"t":6.5,"a":185},{"t":7.2,"a":218},{"t":8,"a":230},{"t":9,"a":228},{"t":10.6,"a":190},{"t":12.5,"a":155},{"t":14.3,"a":127},{"t":16.1,"a":105},{"t":18.4,"a":80},{"t":20.7,"a":61},{"t":23.4,"a":42},{"t":26.1,"a":28},{"t":29.8,"a":17},{"t":34.3,"a":11},{"t":38,"a":6}
],
"bRavg":[
{"t":0,"a":0},{"t":1.5,"a":1},{"t":3,"a":2},{"t":3.8,"a":5},{"t":4.5,"a":25},{"t":5.2,"a":77},{"t":5.8,"a":140},{"t":6.5,"a":204},{"t":7.4,"a":237},{"t":8.4,"a":240},{"t":9.7,"a":218},{"t":12,"a":176},{"t":14.3,"a":138},{"t":16.5,"a":105},{"t":18.8,"a":77},{"t":21.1,"a":55},{"t":24.7,"a":33},{"t":28.3,"a":17},{"t":32.4,"a":9},{"t":37.6,"a":3}
],
"bars":[
{"p":"C","g":"+/+","v":2.61,"lo":2.2,"hi":3.02},
{"p":"C","g":"-/-","v":2.9,"lo":2.57,"hi":3.2},
{"p":"D","g":"+/+","v":212,"lo":148,"hi":278},
{"p":"D","g":"-/-","v":231,"lo":181,"hi":280},
{"p":"E","g":"+/+","v":2.54,"lo":1.98,"hi":3.08},
{"p":"E","g":"-/-","v":2.8,"lo":2.27,"hi":3.28}
]
},
"vconcat":[
{"spacing":0,"vconcat":[
 {"bounds":"flush","spacing":88,"hconcat":[
  {"width":311,"height":218,"title":{"text":"A","dx":-42,"offset":6},
   "layer":[
    {"data":{"name":"aLbase"},"mark":{"type":"area","color":"#151515"},
     "encoding":{
      "x":{"field":"t","type":"quantitative","scale":{"domain":[-0.07,10.04],"range":[27,311],"nice":false,"zero":false},"axis":{"title":"sec","values":[0,2,4,6,8,10],"tickSize":6,"labelPadding":5,"titlePadding":4,"labelFlush":false}},
      "y":{"field":"lo","type":"quantitative","scale":{"domain":[-20,700],"reverse":true,"nice":false,"zero":false},"axis":{"title":"Amplitude (pA)","values":[0,100,200,300,400,500,600,700],"labelExpr":"datum.value % 200 === 0 ? datum.label : ''","tickSize":8,"labelPadding":10,"titlePadding":4,"offset":-27}},
      "y2":{"field":"hi"}}},
    {"data":{"name":"aLspk"},"mark":{"type":"rule","color":"#151515","strokeWidth":1.2},
     "encoding":{"x":{"field":"t","type":"quantitative"},"y":{"field":"a","type":"quantitative"},"y2":{"datum":12}}},
    {"data":{"values":[{"t":5.41,"a":657,"label":"Munc 13-3 +/+"}]},"mark":{"type":"text","fontSize":16,"baseline":"alphabetic","align":"center","color":"black"},
     "encoding":{"x":{"field":"t","type":"quantitative"},"y":{"field":"a","type":"quantitative"},"text":{"field":"label"}}}
   ]},
  {"width":283,"height":218,
   "layer":[
    {"data":{"name":"aRbase"},"mark":{"type":"area","color":"#151515"},
     "encoding":{
      "x":{"field":"t","type":"quantitative","scale":{"domain":[-0.04,10.04],"nice":false,"zero":false},"axis":{"title":"sec","values":[0,2,4,6,8,10],"tickSize":6,"labelPadding":5,"titlePadding":4,"labelFlush":false}},
      "y":{"field":"lo","type":"quantitative","scale":{"domain":[-20,700],"reverse":true,"nice":false,"zero":false},"axis":{"title":"Amplitude (pA)","values":[0,100,200,300,400,500,600,700],"labelExpr":"datum.value % 200 === 0 ? datum.label : ''","tickSize":8,"labelPadding":10,"titlePadding":4}},
      "y2":{"field":"hi"}}},
    {"data":{"name":"aRspk"},"mark":{"type":"rule","color":"#151515","strokeWidth":1.2},
     "encoding":{"x":{"field":"t","type":"quantitative"},"y":{"field":"a","type":"quantitative"},"y2":{"datum":2}}},
    {"data":{"values":[{"t":5.32,"a":657,"label":"Munc 13-3 -/-"}]},"mark":{"type":"text","fontSize":16,"baseline":"alphabetic","align":"center","color":"black"},
     "encoding":{"x":{"field":"t","type":"quantitative"},"y":{"field":"a","type":"quantitative"},"text":{"field":"label"}}}
   ]}
 ]},
 {"bounds":"flush","spacing":89,"hconcat":[
  {"width":310,"height":218,"title":{"text":"B","dx":-44,"offset":6},
   "layer":[
    {"data":{"name":"bL"},"mark":{"type":"line","color":"#555","strokeWidth":0.8},
     "encoding":{
      "x":{"field":"t","type":"quantitative","scale":{"domain":[-0.41,38.2],"range":[27,310],"nice":false,"zero":false},"axis":{"title":"msec","values":[0,10,20,30],"tickSize":6,"labelPadding":5,"titlePadding":4,"labelFlush":false}},
      "y":{"field":"a","type":"quantitative","scale":{"domain":[-20,700],"reverse":true,"nice":false,"zero":false},"axis":{"title":"Amplitude (pA)","values":[0,100,200,300,400,500,600,700],"labelExpr":"datum.value % 200 === 0 ? datum.label : ''","tickSize":8,"labelPadding":10,"titlePadding":4,"offset":-27}},
      "detail":{"field":"k","type":"nominal"}}},
    {"data":{"name":"bLavg"},"mark":{"type":"line","color":"#7c7c7c","strokeWidth":5},
     "encoding":{"x":{"field":"t","type":"quantitative"},"y":{"field":"a","type":"quantitative"}}},
    {"data":{"values":[{"t":20.6,"a":660,"label":"Munc 13-3 +/+"}]},"mark":{"type":"text","fontSize":16,"baseline":"alphabetic","align":"center","color":"black"},
     "encoding":{"x":{"field":"t","type":"quantitative"},"y":{"field":"a","type":"quantitative"},"text":{"field":"label"}}}
   ]},
  {"width":281,"height":218,
   "layer":[
    {"data":{"name":"bR"},"mark":{"type":"line","color":"#555","strokeWidth":0.8},
     "encoding":{
      "x":{"field":"t","type":"quantitative","scale":{"domain":[-0.27,38.05],"nice":false,"zero":false},"axis":{"title":"msec","values":[0,10,20,30],"tickSize":6,"labelPadding":5,"titlePadding":4,"labelFlush":false}},
      "y":{"field":"a","type":"quantitative","scale":{"domain":[-20,700],"reverse":true,"nice":false,"zero":false},"axis":{"title":"Amplitude (pA)","values":[0,100,200,300,400,500,600,700],"labelExpr":"datum.value % 200 === 0 ? datum.label : ''","tickSize":8,"labelPadding":10,"titlePadding":4}},
      "detail":{"field":"k","type":"nominal"}}},
    {"data":{"name":"bRavg"},"mark":{"type":"line","color":"#7c7c7c","strokeWidth":5},
     "encoding":{"x":{"field":"t","type":"quantitative"},"y":{"field":"a","type":"quantitative"}}},
    {"data":{"values":[{"t":20.6,"a":660,"label":"Munc 13-3 -/-"}]},"mark":{"type":"text","fontSize":16,"baseline":"alphabetic","align":"center","color":"black"},
     "encoding":{"x":{"field":"t","type":"quantitative"},"y":{"field":"a","type":"quantitative"},"text":{"field":"label"}}}
   ]}
 ]}
]},
{"bounds":"flush","spacing":76,"hconcat":[
 {"width":178,"height":199,"title":{"text":"C","dx":-47,"offset":12},
  "data":{"name":"bars"},"transform":[{"filter":"datum.p == 'C'"}],
  "layer":[
   {"transform":[{"filter":"datum.g == '+/+'"}],"mark":{"type":"bar","fill":"white","stroke":"black","strokeWidth":1},
    "encoding":{"x":{"field":"g","type":"nominal","scale":{"domain":["+/+","-/-"],"paddingInner":0.45,"paddingOuter":0.4},"axis":{"title":"Munc 13-3","labelAngle":0,"ticks":false,"labelPadding":10,"titlePadding":3,"labelFontSize":17}},
     "y":{"field":"v","type":"quantitative","scale":{"domain":[0,3.5],"nice":false},"axis":{"title":"Frequency (Hz)","values":[0,1,2,3],"format":"d","tickSize":7,"labelPadding":10,"titlePadding":5,"labelFontSize":16}}}},
   {"transform":[{"filter":"datum.g == '-/-'"}],"mark":{"type":"bar","stroke":"black","strokeWidth":1},
    "encoding":{"x":{"field":"g","type":"nominal"},"y":{"field":"v","type":"quantitative"}}},
   {"mark":{"type":"rule","color":"#444","strokeWidth":1},"encoding":{"x":{"field":"g","type":"nominal"},"y":{"field":"lo","type":"quantitative"},"y2":{"field":"hi"}}},
   {"mark":{"type":"tick","color":"#444","size":8,"thickness":1,"orient":"horizontal"},"encoding":{"x":{"field":"g","type":"nominal"},"y":{"field":"lo","type":"quantitative"}}},
   {"mark":{"type":"tick","color":"#444","size":8,"thickness":1,"orient":"horizontal"},"encoding":{"x":{"field":"g","type":"nominal"},"y":{"field":"hi","type":"quantitative"}}}
  ]},
 {"width":177,"height":199,"title":{"text":"D","dx":-67,"offset":4},
  "data":{"name":"bars"},"transform":[{"filter":"datum.p == 'D'"}],
  "layer":[
   {"transform":[{"filter":"datum.g == '+/+'"}],"mark":{"type":"bar","fill":"white","stroke":"black","strokeWidth":1},
    "encoding":{"x":{"field":"g","type":"nominal","scale":{"domain":["+/+","-/-"],"paddingInner":0.45,"paddingOuter":0.4},"axis":{"title":"Munc 13-3","labelAngle":0,"ticks":false,"labelPadding":10,"titlePadding":3,"labelFontSize":17}},
     "y":{"field":"v","type":"quantitative","scale":{"domain":[0,300],"nice":false},"axis":{"title":"Amplitude (pA)","values":[0,100,200,300],"format":"d","tickSize":7,"labelPadding":10,"titlePadding":5,"labelFontSize":16}}}},
   {"transform":[{"filter":"datum.g == '-/-'"}],"mark":{"type":"bar","stroke":"black","strokeWidth":1},
    "encoding":{"x":{"field":"g","type":"nominal"},"y":{"field":"v","type":"quantitative"}}},
   {"mark":{"type":"rule","color":"#444","strokeWidth":1},"encoding":{"x":{"field":"g","type":"nominal"},"y":{"field":"lo","type":"quantitative"},"y2":{"field":"hi"}}},
   {"mark":{"type":"tick","color":"#444","size":8,"thickness":1,"orient":"horizontal"},"encoding":{"x":{"field":"g","type":"nominal"},"y":{"field":"lo","type":"quantitative"}}},
   {"mark":{"type":"tick","color":"#444","size":8,"thickness":1,"orient":"horizontal"},"encoding":{"x":{"field":"g","type":"nominal"},"y":{"field":"hi","type":"quantitative"}}}
  ]},
 {"width":177,"height":199,"title":{"text":"E","dx":7,"offset":12},
  "data":{"name":"bars"},"transform":[{"filter":"datum.p == 'E'"}],
  "layer":[
   {"transform":[{"filter":"datum.g == '+/+'"}],"mark":{"type":"bar","fill":"white","stroke":"black","strokeWidth":1},
    "encoding":{"x":{"field":"g","type":"nominal","scale":{"domain":["+/+","-/-"],"paddingInner":0.45,"paddingOuter":0.4},"axis":{"title":"Munc 13-3","labelAngle":0,"ticks":false,"labelPadding":10,"titlePadding":3,"labelFontSize":17}},
     "y":{"field":"v","type":"quantitative","scale":{"domain":[0,3.5],"nice":false},"axis":{"title":"Rise-time (ms)","values":[0,1,2,3],"format":"d","tickSize":7,"labelPadding":10,"titlePadding":5,"labelFontSize":16}}}},
   {"transform":[{"filter":"datum.g == '-/-'"}],"mark":{"type":"bar","stroke":"black","strokeWidth":1},
    "encoding":{"x":{"field":"g","type":"nominal"},"y":{"field":"v","type":"quantitative"}}},
   {"mark":{"type":"rule","color":"#444","strokeWidth":1},"encoding":{"x":{"field":"g","type":"nominal"},"y":{"field":"lo","type":"quantitative"},"y2":{"field":"hi"}}},
   {"mark":{"type":"tick","color":"#444","size":8,"thickness":1,"orient":"horizontal"},"encoding":{"x":{"field":"g","type":"nominal"},"y":{"field":"lo","type":"quantitative"}}},
   {"mark":{"type":"tick","color":"#444","size":8,"thickness":1,"orient":"horizontal"},"encoding":{"x":{"field":"g","type":"nominal"},"y":{"field":"hi","type":"quantitative"}}}
  ]}
]}
]
}
